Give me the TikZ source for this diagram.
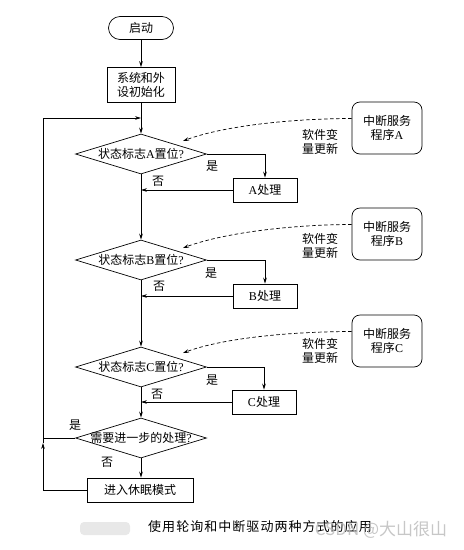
\documentclass[tikz,border=0pt]{standalone}
\usepackage{fontspec}
\setmainfont{Liberation Serif}
\newfontfamily\cjk{Noto Sans CJK SC}
\newfontfamily\capfont[LetterSpace=8]{Noto Sans CJK SC}
\newcommand\zh[1]{{\cjk #1}}
\usetikzlibrary{shapes.geometric,arrows.meta,calc}
\begin{document}
\begin{tikzpicture}[x=1pt,y=-1pt,line width=0.7pt,
  arr/.style={-{Stealth[length=6pt,width=3.6pt]}},
  txt/.style={font=\fontsize{12}{14.5}\selectfont,align=center,inner sep=0pt},
  box/.style={txt,draw,rectangle},
  dia/.style={draw,diamond,inner sep=0pt,minimum width=131pt,minimum height=40pt},
  isr/.style={txt,draw,rounded corners=8pt,minimum width=70pt,minimum height=52pt},
  note/.style={txt,font=\fontsize{12}{13.5}\selectfont},
  dashedarr/.style={arr,dashed,dash pattern=on 3.5pt off 2.5pt}]
\useasboundingbox[fill=white] (0,0) rectangle (464,550);

% main column
\node[box,rounded corners=11.5pt,minimum width=65pt,minimum height=23pt] (start) at (141,28) {\zh{启动}};
\node[box,minimum width=68pt,minimum height=35pt] (init) at (141,85) {\zh{系统和外}\\\zh{设初始化}};
\node[dia] (dA) at (141,154) {};
\node[txt] (tA) at (141,154) {\zh{状态标志}A\zh{置位}?};
\node[box,minimum width=64pt,minimum height=24pt] (bA) at (265,190) {A\zh{处理}};
\node[dia] (dB) at (141,260) {};
\node[txt] (tB) at (141,260) {\zh{状态标志}B\zh{置位}?};
\node[box,minimum width=64pt,minimum height=24pt] (bB) at (265,296) {B\zh{处理}};
\node[dia] (dC) at (141,367) {};
\node[txt] (tC) at (141,367) {\zh{状态标志}C\zh{置位}?};
\node[box,minimum width=64pt,minimum height=24pt] (bC) at (264,402) {C\zh{处理}};
\node[dia] (dD) at (141,438) {};
\node[txt] (tD) at (141,438) {\zh{需要进一步的处理}?};
\node[box,minimum width=106pt,minimum height=24pt] (sleep) at (140,490) {\zh{进入休眠模式}};

% interrupt service routines
\node[isr] (iA) at (387,128) {\zh{中断服务}\\\zh{程序}A};
\node[isr] (iB) at (387,234) {\zh{中断服务}\\\zh{程序}B};
\node[isr] (iC) at (387,341) {\zh{中断服务}\\\zh{程序}C};
\node[note] (nA) at (320,142) {\zh{软件变}\\\zh{量更新}};
\node[note] (nB) at (320,246) {\zh{软件变}\\\zh{量更新}};
\node[note] (nC) at (320,351) {\zh{软件变}\\\zh{量更新}};

% yes / no labels
\node[txt] (yA) at (212,166) {\zh{是}};
\node[txt] (noA) at (158,181) {\zh{否}};
\node[txt] (yB) at (211,273) {\zh{是}};
\node[txt] (noB) at (159,286) {\zh{否}};
\node[txt] (yC) at (212,380) {\zh{是}};
\node[txt] (noC) at (157,394) {\zh{否}};
\node[txt] (yD) at (75,425) {\zh{是}};
\node[txt] (noD) at (107,462) {\zh{否}};

% coordinates
\coordinate (jTop) at (141,118);
\coordinate (lUp) at (43,443);
\coordinate (tgA) at ($(dA.center)+(42,-13)$);
\coordinate (tgB) at ($(dB.center)+(42,-12)$);
\coordinate (tgC) at ($(dC.center)+(42,-14)$);

% connectors
\draw[arr] (start) -- (init);
\draw[arr] (init) -- (dA);
\draw[arr] (dA.east) -| (bA.north);
\draw[arr] (bA.west) -- (bA.west -| dA.south);
\draw[arr] (dA.south) -- (dB.north);
\draw[arr] (dB.east) -| (bB.north);
\draw[arr] (bB.west) -- (bB.west -| dB.south);
\draw[arr] (dB.south) -- (dC.north);
\draw[arr] (dC.east) -| (bC.north);
\draw[arr] (bC.west) -- (bC.west -| dC.south);
\draw[arr] (dC.south) -- (dD.north);
\draw[arr] (dD.south) -- (dD.south |- sleep.north);
\draw[arr] (sleep.west) -| (lUp);
\draw[arr] (lUp) |- (jTop);
\draw (dD.west) -- (dD.west -| lUp);

% dashed interrupt arrows
\draw[dashedarr] (iA.165) .. controls +(-60,0) and +(40,-15) .. (tgA);
\draw[dashedarr] (iB.165) .. controls +(-60,0) and +(40,-15) .. (tgB);
\draw[dashedarr] (iC.165) .. controls +(-60,0) and +(40,-15) .. (tgC);

% caption
\fill[gray!18,rounded corners=4pt] (80,522) rectangle (130,535);
\node[inner sep=0pt,font=\capfont\fontsize{13}{15}\selectfont] (cap) at (260,527) {使用轮询和中断驱动两种方式的应用};
\node[inner sep=0pt,text=gray!55,opacity=0.8,font=\cjk\fontsize{17}{19}\selectfont] (wm) at (381,530) {CSDN @大山很山};
\end{tikzpicture}
\end{document}
